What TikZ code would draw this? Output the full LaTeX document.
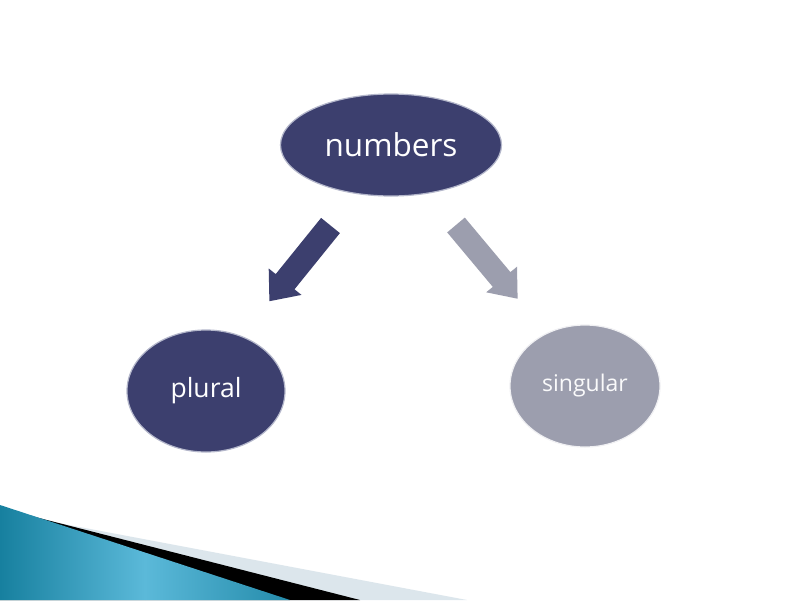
\documentclass[tikz,border=0pt]{standalone}
\usepackage{fontspec}
\setmainfont{Open Sans}
\usetikzlibrary{shapes.geometric}
\definecolor{navy}{HTML}{3C3F6E}
\definecolor{greyb}{HTML}{9C9EAE}
\definecolor{rimc}{HTML}{B4B7CB}
\definecolor{tealdark}{HTML}{17809F}
\definecolor{teallight}{HTML}{5BB9D9}
\definecolor{bandgrey}{HTML}{DCE6EC}
\tikzset{
  bubble/.style={ellipse, inner sep=0pt, line width=1.2pt, text=white},
  blockarrow/.style={draw=none}
}
\begin{document}
\begin{tikzpicture}[x=1pt,y=-1pt]
\useasboundingbox[fill=white] (0,0) rectangle (800,600);
% bottom-left decoration
\fill[bandgrey] (0,512) -- (467,600) -- (0,600) -- cycle;
\fill[black] (0,508) -- (360,600) -- (0,600) -- cycle;
\begin{scope}
\clip (0,505) -- (290,600) -- (0,600) -- cycle;
\shade[left color=tealdark, right color=teallight] (0,500) rectangle (145,600);
\shade[left color=teallight, right color=tealdark!80!teallight] (145,500) rectangle (290,600);
\end{scope}
% ellipses
\node[bubble, fill=navy, draw=rimc, minimum width=221pt, minimum height=102pt, font=\fontsize{31.5}{38}\selectfont] (numbers) at (391,145) {numbers};
\node[bubble, fill=navy, draw=rimc, minimum width=158pt, minimum height=122pt, font=\fontsize{26.5}{32}\selectfont] (plural) at (206,391) {plural};
\node[bubble, fill=greyb, draw=white!85!greyb, minimum width=150pt, minimum height=122pt, font=\fontsize{23}{28}\selectfont, text=white!95!greyb] (singular) at (585,386) {singular};
% block arrows
\fill[blockarrow, navy] (339.9,233.1) -- (294.5,289.3) -- (301.5,294.9) -- (269.4,301.2) -- (268.7,268.5) -- (275.7,274.1) -- (321.1,217.9) -- cycle;
\fill[blockarrow, greyb] (464.8,217.6) -- (510.4,272.1) -- (517,266.7) -- (517.6,298.7) -- (486.2,292.3) -- (492.8,286.9) -- (447.2,232.4) -- cycle;
\end{tikzpicture}
\end{document}
